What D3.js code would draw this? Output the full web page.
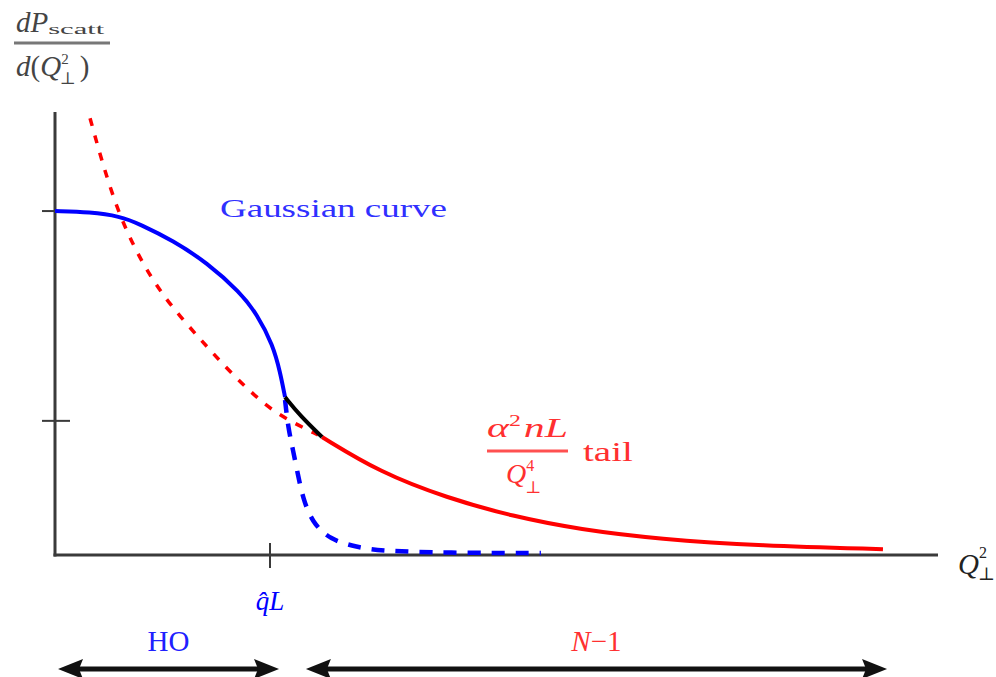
<!DOCTYPE html>
<html>
<head>
<meta charset="utf-8">
<script src="https://cdn.jsdelivr.net/npm/d3@7"></script>
<style>
  body { margin: 0; background: #fff; }
  svg { display: block; font-family: "Liberation Serif", "DejaVu Serif", serif; }
</style>
</head>
<body>
<svg id="chart" width="996" height="677"></svg>
<script>
// schematic values, Q^2 in units of qL, y in units of the gaussian peak
const gaussX = [0, 0.163, 0.302, 0.395, 0.549, 0.707, 0.860, 0.940, 1.014, 1.047, 1.070];
const gaussY = [1.0, 0.997, 0.985, 0.962, 0.914, 0.850, 0.764, 0.700, 0.610, 0.532, 0.459];

const joinX = [1.070, 1.140, 1.242];
const joinY = [0.459, 0.405, 0.343];

const tailX = [1.242, 1.512, 1.823, 2.130, 2.442, 2.814, 3.279, 3.851];
const tailY = [0.343, 0.240, 0.166, 0.112, 0.074, 0.046, 0.027, 0.017];

const tailDashX = [0.163, 0.288, 0.456, 0.584, 0.707, 0.833, 0.986, 1.100, 1.223];
const tailDashY = [1.270, 0.988, 0.791, 0.692, 0.605, 0.520, 0.430, 0.387, 0.349];

const gaussDashX = [1.070, 1.084, 1.107, 1.130, 1.153, 1.195, 1.279, 1.405, 1.512, 1.823, 2.260];
const gaussDashY = [0.451, 0.372, 0.305, 0.233, 0.166, 0.096, 0.044, 0.023, 0.012, 0.006, 0.006];

const yTicks = [1.0, 0.39];
const xTicks = [1.0];
const xTickLabels = ["q\u0302L"];

const regionLabels = ["HO", "N\u22121"];
const regionFrom = [0.014, 1.167];
const regionTo = [1.042, 3.870];

const blue = "#0000ff", red = "#ff0000", axisColor = "#3a3a3a";

const svg = d3.select("#chart");
const x = d3.scaleLinear([0, 4.107], [55, 938]);
const y = d3.scaleLinear([0, 1.288], [555, 112]);

const line = d3.line()
  .x(d => x(d[0]))
  .y(d => y(d[1]))
  .curve(d3.curveBasis);

const zip = (a, b) => a.map((v, i) => [v, b[i]]);

// axes
svg.append("line")
  .attr("x1", x(0)).attr("x2", x(0))
  .attr("y1", y(1.288)).attr("y2", y(0) + 1.5)
  .attr("stroke", axisColor).attr("stroke-width", 3);
svg.append("line")
  .attr("x1", x(0) - 1.5).attr("x2", x(4.107))
  .attr("y1", y(0)).attr("y2", y(0))
  .attr("stroke", axisColor).attr("stroke-width", 3);

svg.selectAll(".ytick")
  .data(yTicks)
  .join("line")
  .attr("class", "ytick")
  .attr("x1", x(0) - 13).attr("x2", x(0) + 15)
  .attr("y1", d => y(d)).attr("y2", d => y(d))
  .attr("stroke", axisColor).attr("stroke-width", 2);

svg.selectAll(".xtick")
  .data(xTicks)
  .join("line")
  .attr("class", "xtick")
  .attr("x1", d => x(d)).attr("x2", d => x(d))
  .attr("y1", y(0) - 12).attr("y2", y(0) + 13)
  .attr("stroke", axisColor).attr("stroke-width", 2);

svg.selectAll(".xlabel")
  .data(xTicks)
  .join("text")
  .attr("class", "xlabel")
  .attr("x", d => x(d))
  .attr("y", 610)
  .attr("text-anchor", "middle")
  .attr("font-size", 27)
  .attr("font-style", "italic")
  .attr("fill", blue)
  .text((d, i) => xTickLabels[i]);

// curves
svg.append("path")
  .attr("d", line(zip(tailDashX, tailDashY)))
  .attr("fill", "none").attr("stroke", red)
  .attr("stroke-width", 3.5).attr("stroke-dasharray", "8,10");

svg.append("path")
  .attr("d", line(zip(gaussDashX, gaussDashY)))
  .attr("fill", "none").attr("stroke", blue)
  .attr("stroke-width", 4.5).attr("stroke-dasharray", "13,11");

svg.append("path")
  .attr("d", line(zip(gaussX, gaussY)))
  .attr("fill", "none").attr("stroke", blue)
  .attr("stroke-width", 4);

svg.append("path")
  .attr("d", line(zip(tailX, tailY)))
  .attr("fill", "none").attr("stroke", red)
  .attr("stroke-width", 4);

svg.append("path")
  .attr("d", line(zip(joinX, joinY)))
  .attr("fill", "none").attr("stroke", "#000")
  .attr("stroke-width", 4);

// y axis title (fraction)
const yt = svg.append("g").attr("fill", "#444");
const num = yt.append("text").attr("x", 16).attr("y", 32).attr("font-size", 29);
num.append("tspan").attr("font-style", "italic").text("dP");
num.append("tspan").attr("font-size", 15).attr("dy", 2)
  .attr("textLength", 56).attr("lengthAdjust", "spacingAndGlyphs").text("scatt");
yt.append("line").attr("x1", 14).attr("x2", 110).attr("y1", 43).attr("y2", 43)
  .attr("stroke", "#777").attr("stroke-width", 3);
const den = yt.append("text").attr("x", 16).attr("y", 76).attr("font-size", 29);
den.append("tspan").attr("font-style", "italic").text("d");
den.append("tspan").text("(");
den.append("tspan").attr("font-style", "italic").text("Q");
den.append("tspan").attr("font-size", 15).attr("dy", -12).text("2");
den.append("tspan").attr("font-size", 17).attr("dx", -9).attr("dy", 20).text("\u22a5");
den.append("tspan").attr("dx", 4).attr("dy", -8).text(")");

// x axis title
const xt = svg.append("text").attr("x", 958).attr("y", 574).attr("font-size", 29).attr("fill", "#222");
xt.append("tspan").attr("font-style", "italic").text("Q");
xt.append("tspan").attr("font-size", 16).attr("dy", -16).text("2");
xt.append("tspan").attr("font-size", 18).attr("dx", -9).attr("dy", 22).text("\u22a5");

// annotations
svg.append("text")
  .attr("x", 220).attr("y", 217)
  .attr("font-size", 26)
  .attr("fill", "#3030ff")
  .attr("textLength", 227).attr("lengthAdjust", "spacingAndGlyphs")
  .text("Gaussian curve");

const tl = svg.append("g").attr("fill", "#ff3030");
const tn = tl.append("text").attr("x", 487).attr("y", 437).attr("font-size", 28)
  .attr("textLength", 81).attr("lengthAdjust", "spacingAndGlyphs");
tn.append("tspan").attr("font-style", "italic").text("\u03b1");
tn.append("tspan").attr("font-size", 16).attr("dy", -11).text("2");
tn.append("tspan").attr("font-style", "italic").attr("dx", 2).attr("dy", 11).text("nL");
tl.append("line").attr("x1", 487).attr("x2", 568).attr("y1", 451).attr("y2", 451)
  .attr("stroke", "#ff5050").attr("stroke-width", 3);
const td = tl.append("text").attr("x", 506).attr("y", 483).attr("font-size", 28);
td.append("tspan").attr("font-style", "italic").text("Q");
td.append("tspan").attr("font-size", 16).attr("dy", -12).text("4");
td.append("tspan").attr("font-size", 17).attr("dx", -9).attr("dy", 22).text("\u22a5");
tl.append("text").attr("x", 583).attr("y", 461).attr("font-size", 27)
  .attr("textLength", 50).attr("lengthAdjust", "spacingAndGlyphs").text("tail");

// region arrows
const regions = regionLabels.map((label, i) => ({label, from: regionFrom[i], to: regionTo[i], color: i ? "#ff3030" : "#2020ff"}));
const ay = 669;
const head = (tip, dir) => {
  const b = tip + dir * 25;
  return `M${tip},${ay} L${b},${ay - 10} L${b - dir * 4},${ay} L${b},${ay + 10} Z`;
};

const rg = svg.selectAll(".region").data(regions).join("g").attr("class", "region");
rg.append("line")
  .attr("x1", d => x(d.from) + 10).attr("x2", d => x(d.to) - 10)
  .attr("y1", ay).attr("y2", ay)
  .attr("stroke", "#111").attr("stroke-width", 5);
rg.append("path").attr("d", d => head(x(d.from), 1)).attr("fill", "#111");
rg.append("path").attr("d", d => head(x(d.to), -1)).attr("fill", "#111");
rg.append("text")
  .attr("x", d => (x(d.from) + x(d.to)) / 2)
  .attr("y", 651)
  .attr("text-anchor", "middle")
  .attr("font-size", 29)
  .attr("fill", d => d.color)
  .each(function(d) {
    const t = d3.select(this);
    if (d.label === "HO") t.text("HO");
    else {
      t.append("tspan").attr("font-style", "italic").text("N");
      t.append("tspan").text("\u22121");
    }
  });
</script>
</body>
</html>
